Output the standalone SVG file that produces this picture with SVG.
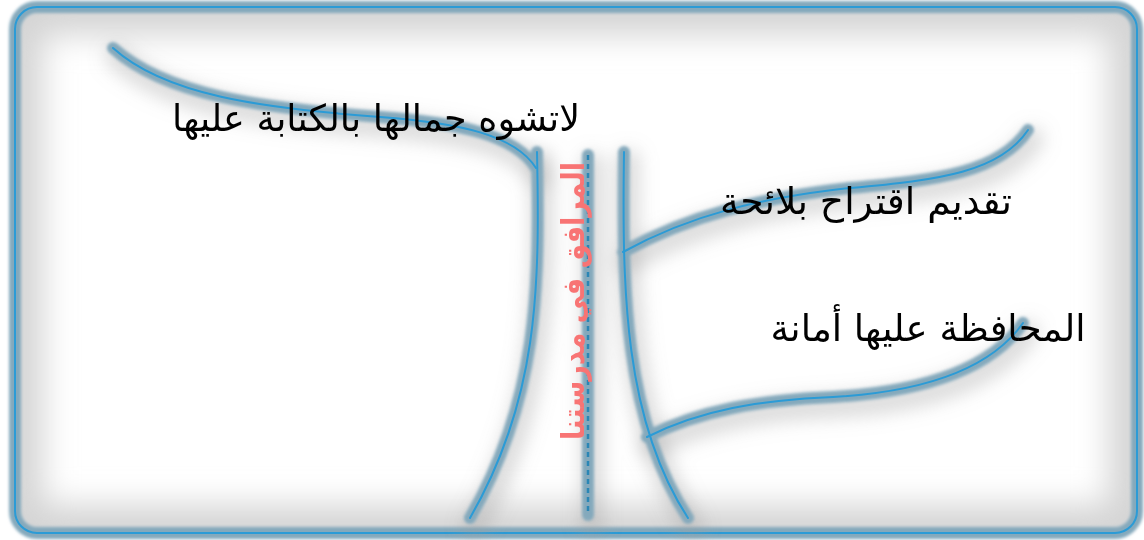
<svg xmlns="http://www.w3.org/2000/svg" width="1144" height="540" viewBox="0 0 1144 540">
<style>
.core{fill:none;stroke:#2b9bd6;stroke-width:2;stroke-linecap:round}
.glow{fill:none;stroke:#84a9bc;stroke-width:12;stroke-linecap:round}
.shadow{fill:none;stroke:#9a9a9a;stroke-width:24;stroke-linecap:round;opacity:.35}
.lbl{font-family:"DejaVu Sans","Noto Sans",sans-serif;font-size:37px;fill:#000}
</style>
<defs>
<filter id="blurS" x="-20%" y="-20%" width="140%" height="140%"><feGaussianBlur stdDeviation="9"/></filter>
<filter id="blurG" x="-20%" y="-20%" width="140%" height="140%"><feGaussianBlur stdDeviation="1.8"/></filter>
<filter id="blurI" x="-10%" y="-10%" width="120%" height="120%"><feGaussianBlur stdDeviation="16"/></filter>
<clipPath id="frameClip"><rect x="15" y="7" width="1122" height="526" rx="22"/></clipPath>
<path id="pTL" d="M113,48 C165,95 260,108 380,117 C460,123 515,135 536,168"/>
<path id="pTrL" d="M537,152 C540,290 538,400 470,518"/>
<path id="pTrR" d="M624,152 C622,290 624,420 688,518"/>
<path id="pUR" d="M623,252 C690,215 760,198 850,188 C940,180 1000,172 1028,130"/>
<path id="pLR" d="M647,437 C700,410 760,400 833,397 C920,392 990,370 1023,323"/>
<path id="pD" d="M588,155 L588,515"/>
</defs>
<rect width="1144" height="540" fill="#fff"/>
<g id="frame">
<rect x="15" y="7" width="1122" height="526" rx="22" fill="#fff"/>
<g clip-path="url(#frameClip)">
<rect x="15" y="7" width="1122" height="526" rx="22" fill="none" stroke="#d4d4d4" stroke-width="56" filter="url(#blurI)"/>
</g>
<rect x="15" y="7" width="1122" height="526" rx="22" class="glow" filter="url(#blurG)"/>
<rect x="15" y="7" width="1122" height="526" rx="22" class="core"/>
</g>
<g id="connectors">
<g transform="translate(4,9)" filter="url(#blurS)">
<use href="#pTL" class="shadow"/><use href="#pTrL" class="shadow"/><use href="#pTrR" class="shadow"/>
<use href="#pUR" class="shadow"/><use href="#pLR" class="shadow"/><use href="#pD" class="shadow"/>
</g>
<g filter="url(#blurG)">
<use href="#pTL" class="glow"/><use href="#pTrL" class="glow"/><use href="#pTrR" class="glow"/>
<use href="#pUR" class="glow"/><use href="#pLR" class="glow"/><use href="#pD" class="glow"/>
</g>
<use href="#pTL" class="core"/><use href="#pTrL" class="core"/><use href="#pTrR" class="core"/>
<use href="#pUR" class="core"/><use href="#pLR" class="core"/>
<use href="#pD" class="core" style="stroke:#2a86b5;stroke-width:2.5;stroke-dasharray:5 4;stroke-linecap:butt"/>
</g>
<g id="node-title">
<text transform="translate(584,301) rotate(-90)" text-anchor="middle" direction="rtl" textLength="278" lengthAdjust="spacingAndGlyphs" style="font-family:'DejaVu Sans','Noto Sans',sans-serif;font-size:31px;font-weight:bold;fill:#f87474">المرافق في مدرستنا</text>
</g>
<g id="node-1">
<text x="376" y="131" text-anchor="middle" direction="rtl" textLength="408" lengthAdjust="spacingAndGlyphs" class="lbl">لاتشوه جمالها بالكتابة عليها</text>
</g>
<g id="node-2">
<text x="866" y="214" text-anchor="middle" direction="rtl" textLength="292" lengthAdjust="spacingAndGlyphs" class="lbl">تقديم اقتراح بلائحة</text>
</g>
<g id="node-3">
<text x="928" y="341" text-anchor="middle" direction="rtl" textLength="315" lengthAdjust="spacingAndGlyphs" class="lbl">المحافظة عليها أمانة</text>
</g>
</svg>
